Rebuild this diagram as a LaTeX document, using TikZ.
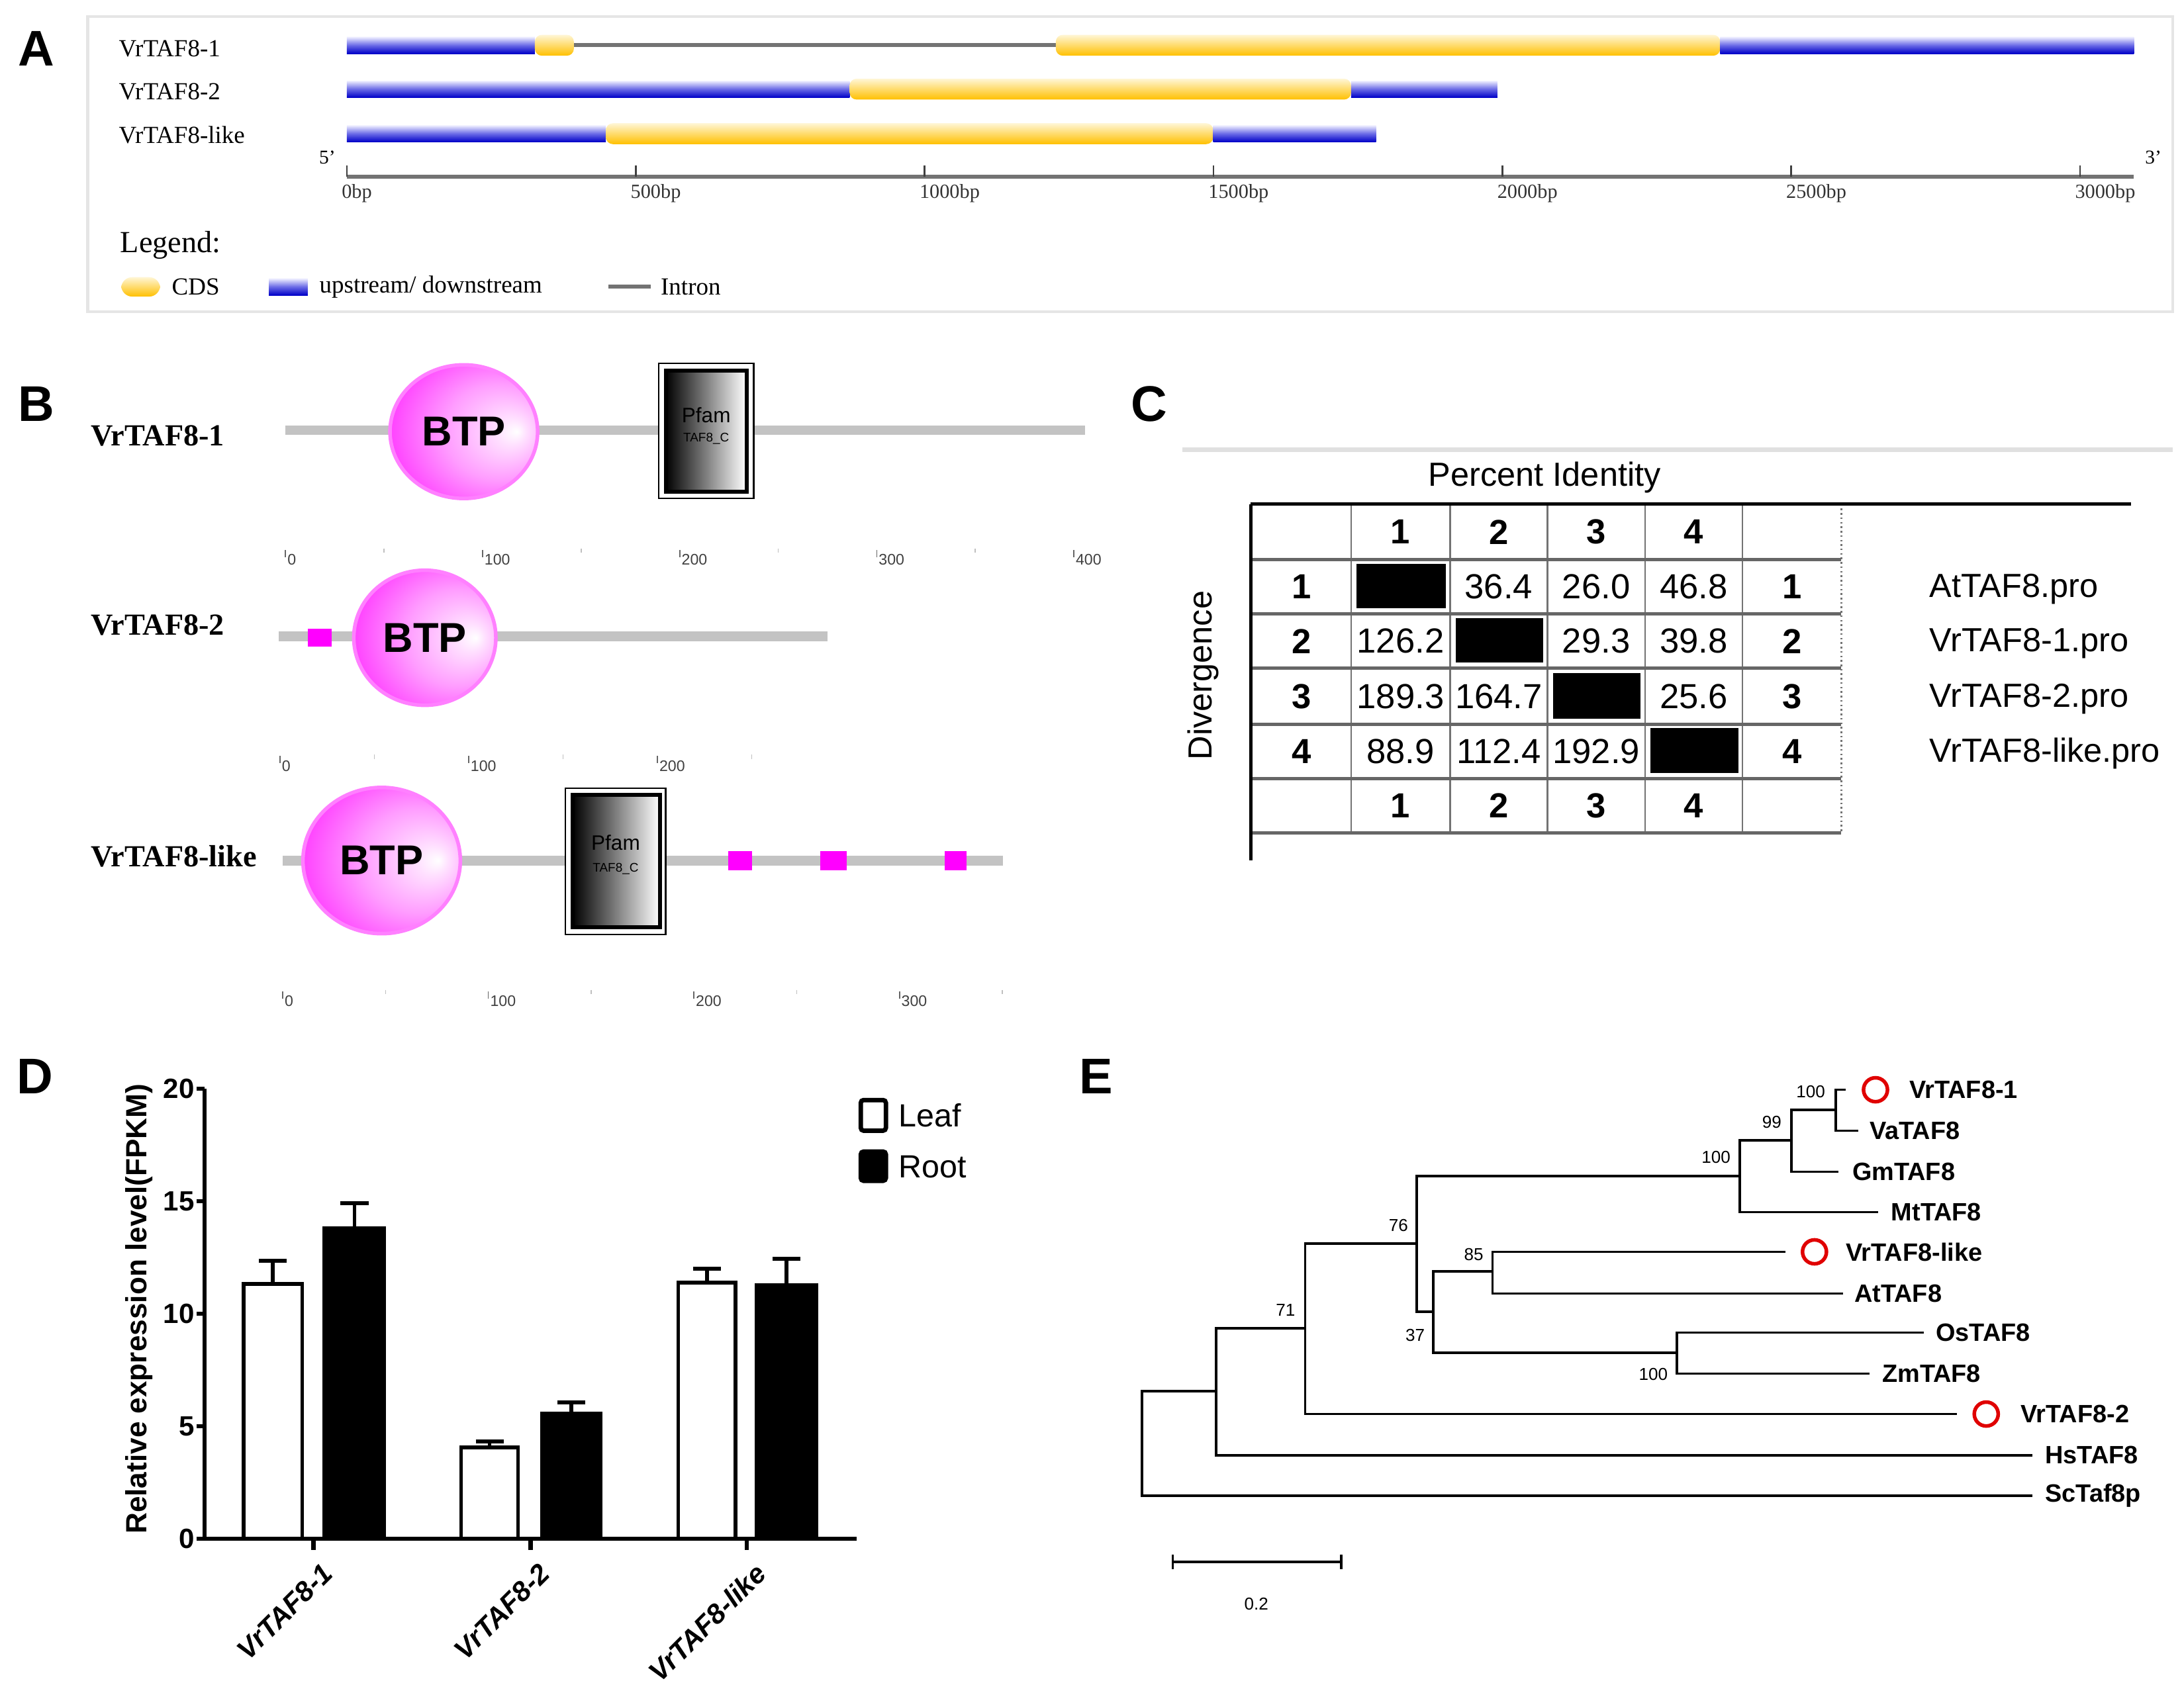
\documentclass[tikz,border=0pt]{standalone}
\usepackage{fontspec}
\setmainfont{Liberation Serif}
\setsansfont{Liberation Sans}
\usetikzlibrary{shapes.geometric}
\newcommand{\myfs}[1]{\fontsize{#1}{#1}\selectfont}
\definecolor{cdsgold}{HTML}{FFC000}
\definecolor{cdslight}{HTML}{FFF6D6}
\definecolor{updark}{HTML}{0000C8}
\definecolor{upmid}{HTML}{6A6AE6}
\definecolor{uplight}{HTML}{F0F0FF}
\definecolor{bargray}{HTML}{C3C3C3}
\definecolor{mag}{HTML}{FF00FF}
\definecolor{magA}{HTML}{FFE0FF}
\definecolor{magB}{HTML}{FF9CFF}
\definecolor{magC}{HTML}{FF40FF}
\definecolor{magrim}{HTML}{FF80FF}
\definecolor{circred}{HTML}{E00000}
\pgfdeclareradialshading{btpshade}{\pgfpoint{18bp}{0bp}}{color(0bp)=(white); color(5bp)=(magA); color(18bp)=(magB); color(32bp)=(magC); color(44bp)=(mag); color(50bp)=(mag)}
\begin{document}
\begin{tikzpicture}[x=0.5pt,y=-0.5pt,
  panellab/.style={font=\sffamily\bfseries\myfs{18}},
  alab/.style={font=\myfs{8.8}, anchor=west, inner sep=0pt},
  atick/.style={font=\myfs{7.2}, anchor=west, inner sep=0pt, black!80},
  upbar/.style={top color=uplight, bottom color=updark, middle color=upmid, draw=none},
  cdsbar/.style={top color=cdslight, bottom color=cdsgold, draw=none, rounded corners=2.5pt},
  intron/.style={black!55, line width=1.4pt},
  blab/.style={font=\bfseries\myfs{11}, anchor=west, inner sep=0pt},
  protline/.style={bargray, line width=3.5pt},
  btp/.style={ellipse, shade, shading=btpshade, draw=magrim, line width=1.3pt, font=\sffamily\bfseries\myfs{15}, inner sep=0pt},
  pfamout/.style={draw=black, line width=0.6pt, fill=white},
  pfamin/.style={draw=black, line width=1.4pt, left color=black, right color=white},
  motif/.style={fill=mag, draw=none},
  scal/.style={font=\sffamily\myfs{5.5}, anchor=west, inner sep=0.5pt, black!75},
  majtick/.style={black!60, line width=0.4pt},
  mintick/.style={black!25, line width=0.4pt},
  grid/.style={black!55, line width=0.6pt},
  rowline/.style={black!60, line width=1.2pt},
  tnum/.style={font=\sffamily\myfs{12.5}, inner sep=0pt},
  thead/.style={font=\sffamily\bfseries\myfs{12.5}, inner sep=0pt},
  dtick/.style={font=\sffamily\bfseries\myfs{10}, anchor=east, inner sep=0pt},
  axis/.style={black, line width=1.5pt},
  leafbar/.style={draw=black, fill=white, line width=1.3pt},
  rootbar/.style={draw=black, fill=black, line width=1.3pt},
  errb/.style={black, line width=1.4pt},
  catlab/.style={font=\sffamily\bfseries\itshape\myfs{10}, rotate=45, anchor=north east, inner sep=0pt},
  tree/.style={black, line width=0.9pt},
  leaflab/.style={font=\sffamily\bfseries\myfs{9}, anchor=west, inner sep=0pt},
  boot/.style={font=\sffamily\myfs{6.2}, inner sep=0pt},
  redc/.style={circle, draw=circred, line width=1.3pt, minimum size=8.6pt, inner sep=0pt}
]
\useasboundingbox (0,0) rectangle (1568,1210);

%%%%%%%%%%%%%%%% Panel A
\draw[draw=black!10, line width=1pt] (63,12) rectangle (1560,224);
\node[panellab] (labA) at (26,35) {A};
\node[alab] (gA1) at (85,35) {VrTAF8-1};
\node[alab] (gA2) at (85,66) {VrTAF8-2};
\node[alab] (gA3) at (85,97) {VrTAF8-like};
% VrTAF8-1
\path[upbar] (249,26.5) rectangle (384,38.5);
\draw[intron] (410,32.5) -- (760,32.5);
\path[cdsbar] (384,25) rectangle (412,40);
\path[cdsbar] (758,25) rectangle (1235,40);
\path[upbar] (1235,26.5) rectangle (1532,38.5);
% VrTAF8-2
\path[upbar] (249,58) rectangle (610,70);
\path[cdsbar] (610,56.5) rectangle (970,71.5);
\path[upbar] (970,58) rectangle (1075,70);
% VrTAF8-like
\path[upbar] (249,90) rectangle (435,102);
\path[cdsbar] (435,88.5) rectangle (871,103.5);
\path[upbar] (871,90) rectangle (988,102);
% axis
\draw[black!55, line width=1.4pt] (249,127) -- (1532,127);
\foreach \i/\t in {0/0bp,1/500bp,2/1000bp,3/1500bp,4/2000bp,5/2500bp,6/3000bp}{
  \draw[black!75, line width=0.6pt] ({249+207.4*\i},119) -- ({249+207.4*\i},127);
  \node[atick] at ({249+207.4*\i-4},139) {\t};
}
\node[font=\myfs{7}, inner sep=0pt] (five) at (235,113) {5'};
\node[font=\myfs{7}, inner sep=0pt] (three) at (1546,113) {3'};
% legend
\node[font=\myfs{11}, anchor=west, inner sep=0pt] (legA) at (86,176) {Legend:};
\path[cdsbar, rounded corners=4pt] (87,199) rectangle (115,213);
\node[alab] (lcds) at (123,206) {CDS};
\path[upbar] (193,200) rectangle (221,212);
\node[alab] (lup) at (229,206) {upstream/ downstream};
\draw[intron] (437,206) -- (467,206);
\node[alab] (lint) at (474,206) {Intron};

%%%%%%%%%%%%%%%% Panel B
\node[panellab] (labB) at (26,290) {B};
\node[blab] (gB1) at (65,313) {VrTAF8-1};
\node[blab] (gB2) at (65,449) {VrTAF8-2};
\node[blab] (gB3) at (65,615) {VrTAF8-like};
% VrTAF8-1
\draw[protline] (205,309) -- (779,309);
\draw[pfamout] (473,261) rectangle (541,358);
\draw[pfamin] (478,266) rectangle (536,353);
\node[font=\sffamily\myfs{7.5}, inner sep=0pt] (pf1) at (507,298) {Pfam};
\node[font=\sffamily\myfs{4.5}, inner sep=0pt] (tc1) at (507,315) {TAF8\_C};
\node[btp, minimum width=53pt, minimum height=48pt] (btp1) at (333,310) {BTP};
\foreach \i/\t in {0/0,1/100,2/200,3/300,4/400}{
  \draw[majtick] ({205+141.5*\i},395) -- ({205+141.5*\i},400);
  \node[scal] at ({205+141.5*\i},402) {\t};
}
\foreach \i in {0,1,2,3}{ \draw[mintick] ({275.75+141.5*\i},394) -- ({275.75+141.5*\i},397); }
% VrTAF8-2
\draw[protline] (200,457) -- (594,457);
\path[motif] (221,451.5) rectangle (238,464.5);
\node[btp, minimum width=51pt, minimum height=48.5pt] (btp2) at (305,458) {BTP};
\foreach \i/\t in {0/0,1/100,2/200}{
  \draw[majtick] ({201+135.5*\i},543) -- ({201+135.5*\i},548);
  \node[scal] at ({201+135.5*\i},550) {\t};
}
\foreach \i in {0,1,2}{ \draw[mintick] ({268.75+135.5*\i},542) -- ({268.75+135.5*\i},545); }
% VrTAF8-like
\draw[protline] (203,618) -- (720,618);
\draw[pfamout] (406,566) rectangle (478,671);
\draw[pfamin] (411,571) rectangle (474,666);
\node[font=\sffamily\myfs{7.5}, inner sep=0pt] (pf3) at (442,605) {Pfam};
\node[font=\sffamily\myfs{4.5}, inner sep=0pt] (tc3) at (442,624) {TAF8\_C};
\path[motif] (523,611) rectangle (540,625);
\path[motif] (589,611) rectangle (608,625);
\path[motif] (678,611) rectangle (694,625);
\node[btp, minimum width=56.5pt, minimum height=52.5pt] (btp3) at (274,618) {BTP};
\foreach \i/\t in {0/0,1/100,2/200,3/300}{
  \draw[majtick] ({203+147.6*\i},712) -- ({203+147.6*\i},717);
  \node[scal] at ({203+147.6*\i},719) {\t};
}
\foreach \i in {0,1,2,3}{ \draw[mintick] ({276.8+147.6*\i},711) -- ({276.8+147.6*\i},714); }

%%%%%%%%%%%%%%%% Panel C
\node[panellab] (labC) at (825,290) {C};
\draw[black!12, line width=1.5pt] (849,323) -- (1560,323);
\node[font=\sffamily\myfs{12}, inner sep=0pt] (pid) at (1109,343) {Percent Identity};
\node[font=\sffamily\myfs{12}, rotate=90, inner sep=0pt] (div) at (864,485) {Divergence};
% grid
\foreach \x in {970,1041,1111,1181,1251}{ \draw[grid] (\x,362) -- (\x,598); }
\draw[grid, densely dotted] (1322,362) -- (1322,598);
\foreach \y in {402,441,480,520,559}{ \draw[rowline] (899,\y) -- (1322,\y); }
\draw[rowline] (899,598) -- (1322,598);
\draw[black, line width=1.1pt] (898,362) -- (1530,362);
\draw[black, line width=1.1pt] (898,362) -- (898,618);
% diagonal
\fill[black] (974,405) rectangle (1038,437);
\fill[black] (1045,444) rectangle (1108,476);
\fill[black] (1115,483.5) rectangle (1178,516);
\fill[black] (1185,523) rectangle (1248,555);
% headers
\foreach \x/\t in {1005.5/1,1076/2,1146/3,1216/4}{
  \node[thead] at (\x,382) {\t};
  \node[thead] at (\x,578.5) {\t};
}
\foreach \y/\t in {421.5/1,460.5/2,500/3,539.5/4}{
  \node[thead] at (934.5,\y) {\t};
  \node[thead] at (1286.5,\y) {\t};
}
% values
\node[tnum] at (1076,421.5) {36.4};
\node[tnum] at (1146,421.5) {26.0};
\node[tnum] at (1216,421.5) {46.8};
\node[tnum] at (1005.5,460.5) {126.2};
\node[tnum] at (1146,460.5) {29.3};
\node[tnum] at (1216,460.5) {39.8};
\node[tnum] at (1005.5,500) {189.3};
\node[tnum] at (1076,500) {164.7};
\node[tnum] at (1216,500) {25.6};
\node[tnum] at (1005.5,539.5) {88.9};
\node[tnum] at (1076,539.5) {112.4};
\node[tnum] at (1146,539.5) {192.9};
% names
\node[font=\sffamily\myfs{12}, anchor=west, inner sep=0pt] (n1) at (1385,423) {AtTAF8.pro};
\node[font=\sffamily\myfs{12}, anchor=west, inner sep=0pt] (n2) at (1385,462) {VrTAF8-1.pro};
\node[font=\sffamily\myfs{12}, anchor=west, inner sep=0pt] (n3) at (1385,502) {VrTAF8-2.pro};
\node[font=\sffamily\myfs{12}, anchor=west, inner sep=0pt] (n4) at (1385,541) {VrTAF8-like.pro};

%%%%%%%%%%%%%%%% Panel D
\node[panellab] (labD) at (25,773) {D};
\node[font=\sffamily\bfseries\myfs{10.5}, rotate=90, inner sep=0pt] (ylab) at (100,940) {Relative expression level(FPKM)};
% bars
\draw[leafbar] (175,1105) rectangle (217,922);
\draw[rootbar] (233,1105) rectangle (276,882);
\draw[leafbar] (331,1105) rectangle (372,1039.5);
\draw[rootbar] (389,1105) rectangle (431,1015);
\draw[leafbar] (487,1105) rectangle (528,921);
\draw[rootbar] (543,1105) rectangle (586,923);
% error bars
\draw[errb] (196,922) -- (196,905.5) (186,905.5) -- (206,905.5);
\draw[errb] (254.5,882) -- (254.5,864) (244.5,864) -- (264.5,864);
\draw[errb] (351.5,1039.5) -- (351.5,1035) (341.5,1035) -- (361.5,1035);
\draw[errb] (410,1015) -- (410,1007) (400,1007) -- (420,1007);
\draw[errb] (507.5,921) -- (507.5,911) (497.5,911) -- (517.5,911);
\draw[errb] (564.5,923) -- (564.5,904) (554.5,904) -- (574.5,904);
% axes
\draw[axis] (147,782) -- (147,1105) -- (615,1105);
\foreach \v/\y in {0/1105,5/1024.25,10/943.5,15/862.75,20/782}{
  \draw[axis] (141,\y) -- (147,\y);
  \node[dtick] at (140,\y) {\v};
}
\foreach \x in {225,381,536}{ \draw[axis] (\x,1105) -- (\x,1113); }
\node[catlab] (cat1) at (230,1121) {VrTAF8-1};
\node[catlab] (cat2) at (386,1121) {VrTAF8-2};
\node[catlab] (cat3) at (541,1121) {VrTAF8-like};
% legend
\draw[leafbar, line width=1.6pt, rounded corners=1pt] (618,790) rectangle (636,812);
\draw[rootbar, line width=1.6pt, rounded corners=1pt] (618,827) rectangle (636,848);
\node[font=\sffamily\myfs{11.5}, anchor=west, inner sep=0pt] (lleaf) at (645,801) {Leaf};
\node[font=\sffamily\myfs{11.5}, anchor=west, inner sep=0pt] (lroot) at (645,838) {Root};

%%%%%%%%%%%%%%%% Panel E
\node[panellab] (labE) at (787,773) {E};
\coordinate (tR) at (820,1036);
\coordinate (tA) at (873,999);
\coordinate (tB) at (937,954);
\coordinate (tC) at (1017,893);
\coordinate (tD) at (1249,844.5);
\coordinate (tE) at (1286,819);
\coordinate (tF) at (1318,797);
\coordinate (tG) at (1029,942);
\coordinate (tH) at (1071.5,913);
\coordinate (tI) at (1204,971.6);
\coordinate (lVr1) at (1325,782.6);
\coordinate (lVa) at (1334,812);
\coordinate (lGm) at (1320,841.5);
\coordinate (lMt) at (1348.5,870.5);
\coordinate (lVrL) at (1282,899);
\coordinate (lAt) at (1323,929);
\coordinate (lOs) at (1381,957);
\coordinate (lZm) at (1342,986.5);
\coordinate (lVr2) at (1405,1015.5);
\coordinate (lHs) at (1459,1045);
\coordinate (lSc) at (1459,1074);
\draw[tree] (tR) |- (tA);
\draw[tree] (tR) |- (lSc);
\draw[tree] (tA) |- (tB);
\draw[tree] (tA) |- (lHs);
\draw[tree] (tB) |- (tC);
\draw[tree] (tB) |- (lVr2);
\draw[tree] (tC) |- (tD);
\draw[tree] (tC) |- (tG);
\draw[tree] (tD) |- (tE);
\draw[tree] (tD) |- (lMt);
\draw[tree] (tE) |- (tF);
\draw[tree] (tE) |- (lGm);
\draw[tree] (tF) |- (lVr1);
\draw[tree] (tF) |- (lVa);
\draw[tree] (tG) |- (tH);
\draw[tree] (tG) |- (tI);
\draw[tree] (tH) |- (lVrL);
\draw[tree] (tH) |- (lAt);
\draw[tree] (tI) |- (lOs);
\draw[tree] (tI) |- (lZm);
% leaf labels
\node[redc] (cVr1) at (1346.5,782.6) {};
\node[redc] (cVrL) at (1302.7,899) {};
\node[redc] (cVr2) at (1426,1015.5) {};
\node[leaflab] (nVr1) at (1370.5,782.6) {VrTAF8-1};
\node[leaflab] (nVa) at (1342,812) {VaTAF8};
\node[leaflab] (nGm) at (1329.5,841.5) {GmTAF8};
\node[leaflab] (nMt) at (1357.5,870.5) {MtTAF8};
\node[leaflab] (nVrL) at (1325,899) {VrTAF8-like};
\node[leaflab] (nAt) at (1331,929) {AtTAF8};
\node[leaflab] (nOs) at (1389.5,957) {OsTAF8};
\node[leaflab] (nZm) at (1351,986.5) {ZmTAF8};
\node[leaflab] (nVr2) at (1450.5,1015.5) {VrTAF8-2};
\node[leaflab] (nHs) at (1468,1045) {HsTAF8};
\node[leaflab] (nSc) at (1468,1074) {ScTaf8p};
% bootstrap values
\node[boot] (bF) at (1300,784) {100};
\node[boot] (bE) at (1272,806) {99};
\node[boot] (bD) at (1232,831) {100};
\node[boot] (bC) at (1004,880) {76};
\node[boot] (bB) at (923,941) {71};
\node[boot] (bH) at (1058,901) {85};
\node[boot] (bG) at (1016,959) {37};
\node[boot] (bI) at (1187,987) {100};
% scale bar
\coordinate (sb1) at (842,1121.6);
\coordinate (sb2) at (963,1121.6);
\draw[tree] (sb1) -- (sb2);
\draw[tree] ([yshift=-2.6pt]sb1) -- ([yshift=2.6pt]sb1);
\draw[tree] ([yshift=-2.6pt]sb2) -- ([yshift=2.6pt]sb2);
\node[boot] (sbl) at (902,1152) {0.2};
\end{tikzpicture}
\end{document}
